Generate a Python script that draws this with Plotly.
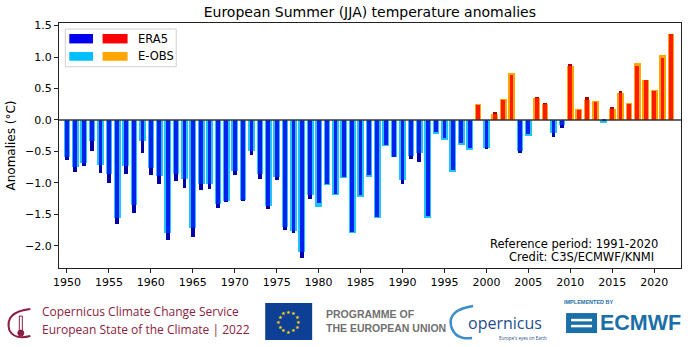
import numpy as np
import plotly.graph_objects as go

years = list(range(1950, 2023))
era5 = [-0.63, -0.82, -0.73, -0.49, -0.84, -1.00, -1.65, -0.85, -1.47, -0.52,
        -0.88, -1.01, -1.90, -0.97, -1.08, -1.86, -1.11, -1.09, -1.40, -1.30,
        -0.88, -1.28, -0.55, -0.94, -1.42, -0.96, -1.75, -1.80, -2.19, -1.25,
        -1.32, -1.02, -1.17, -0.90, -1.78, -1.19, -0.88, -1.54, -0.40, -0.58,
        -1.02, -0.62, -0.66, -1.53, -0.19, -0.28, -0.80, -0.37, -0.45, 0.24,
        -0.46, 0.13, 0.32, 0.72, -0.52, -0.22, 0.37, 0.27, -0.27, -0.12,
        0.89, 0.16, 0.37, 0.29, -0.02, 0.20, 0.46, 0.26, 0.86, 0.63,
        0.46, 0.98, 1.36]
eobs = [-0.58, -0.75, -0.68, -0.34, -0.72, -0.86, -1.55, -0.73, -1.35, -0.34,
        -0.76, -0.89, -1.79, -0.86, -0.94, -1.72, -1.02, -1.02, -1.34, -1.28,
        -0.81, -1.27, -0.50, -0.86, -1.37, -0.90, -1.70, -1.76, -2.09, -1.19,
        -1.38, -1.04, -1.19, -0.92, -1.80, -1.22, -0.90, -1.56, -0.42, -0.59,
        -0.95, -0.57, -0.52, -1.55, -0.22, -0.31, -0.82, -0.39, -0.48, 0.26,
        -0.44, 0.10, 0.34, 0.75, -0.50, -0.25, 0.35, 0.25, -0.21, -0.08,
        0.85, 0.17, 0.32, 0.30, -0.04, 0.17, 0.43, 0.27, 0.91, 0.64,
        0.48, 1.03, 1.37]
xticks = list(range(1950, 2021, 5))
yticks = [-2.0, -1.5, -1.0, -0.5, 0.0, 0.5, 1.0, 1.5]

ERA5_NEG, ERA5_POS = "#0022EE", "#FF1A00"
ERA5_NEG_TIP, ERA5_POS_TIP = "#0000A8", "#B00000"
EOBS_NEG, EOBS_POS = "#22C2FF", "#FFA500"

e = np.array(era5)
o = np.array(eobs)
overlap = np.where(np.sign(e) == np.sign(o), np.sign(e) * np.minimum(np.abs(e), np.abs(o)), 0.0)

fig = go.Figure()
fig.add_bar(x=years, y=eobs, width=0.8,
            marker=dict(color=[EOBS_POS if v > 0 else EOBS_NEG for v in eobs], line=dict(width=0)))
fig.add_bar(x=years, y=era5, width=0.45,
            marker=dict(color=[ERA5_POS_TIP if v > 0 else ERA5_NEG_TIP for v in era5], line=dict(width=0)))
fig.add_bar(x=years, y=overlap.tolist(), width=0.45,
            marker=dict(color=[ERA5_POS if v > 0 else ERA5_NEG for v in era5], line=dict(width=0)))

# plot area in pixels
L, R, T, B = 58.7, 681.0, 23.3, 268.0
W, H = R - L, B - T


def px(x):
    return (x - L) / W


def py(y):
    return (B - y) / H


shapes = []
annotations = []

# zero line
shapes.append(dict(type="line", xref="paper", yref="y", x0=0, x1=1, y0=0, y1=0,
                   line=dict(color="#333333", width=1.3), layer="above"))

# legend
shapes.append(dict(type="rect", xref="paper", yref="paper", x0=px(65), x1=px(176), y0=py(67), y1=py(29.3),
                   line=dict(color="#d0d0d0", width=1), fillcolor="rgba(255,255,255,0.9)", layer="above"))
for (x0, x1, y0, y1, c) in [(69, 92.7, 34.3, 43.7, "#0000EE"), (102.3, 127.3, 34.3, 43.7, "#FF0000"),
                            (69, 92.7, 52.3, 61.0, "#00BFFF"), (102.3, 127.3, 52.3, 61.0, "#FFA500")]:
    shapes.append(dict(type="rect", xref="paper", yref="paper", x0=px(x0), x1=px(x1), y0=py(y1), y1=py(y0),
                       line=dict(width=0), fillcolor=c, layer="above"))
annotations.append(dict(text="ERA5", xref="paper", yref="paper", x=px(136), y=py(39), xanchor="left",
                        yanchor="middle", showarrow=False, font=dict(size=11.5, color="black")))
annotations.append(dict(text="E-OBS", xref="paper", yref="paper", x=px(136), y=py(56.7), xanchor="left",
                        yanchor="middle", showarrow=False, font=dict(size=11.5, color="black")))

# reference text
annotations.append(dict(text="Reference period: 1991-2020", xref="paper", yref="paper", x=px(659.5), y=py(244.3),
                        xanchor="right", yanchor="middle", showarrow=False, font=dict(size=11.5, color="black")))
annotations.append(dict(text="Credit: C3S/ECMWF/KNMI", xref="paper", yref="paper", x=px(655.5), y=py(256.7),
                        xanchor="right", yanchor="middle", showarrow=False, font=dict(size=11.5, color="black")))

# ---- footer logos (decoration) ----
C3S = "#8C1D40"
shapes.append(dict(type="path", xref="paper", yref="paper",
                   path=f"M {px(30)},{py(309)} Q {px(4)},{py(312)} {px(9)},{py(330)} Q {px(14)},{py(340)} {px(30)},{py(336)}",
                   line=dict(color=C3S, width=2)))
shapes.append(dict(type="rect", xref="paper", yref="paper", x0=px(19), x1=px(22), y0=py(332), y1=py(316),
                   line=dict(color=C3S, width=1), fillcolor="white"))
shapes.append(dict(type="circle", xref="paper", yref="paper", x0=px(17.5), x1=px(23.5), y0=py(336), y1=py(330),
                   line=dict(color=C3S, width=1), fillcolor=C3S))
annotations.append(dict(text="Copernicus Climate Change Service", xref="paper", yref="paper", x=px(40), y=py(311),
                        xanchor="left", yanchor="middle", showarrow=False,
                        font=dict(size=12, color=C3S, family="Open Sans")))
annotations.append(dict(text="European State of the Climate | 2022", xref="paper", yref="paper", x=px(40), y=py(329),
                        xanchor="left", yanchor="middle", showarrow=False,
                        font=dict(size=12, color=C3S, family="Open Sans")))

# EU flag
shapes.append(dict(type="rect", xref="paper", yref="paper", x0=px(265), x1=px(312), y0=py(340), y1=py(303),
                   line=dict(width=0), fillcolor="#0D3F95"))
for k in range(12):
    a = 2 * np.pi * k / 12
    annotations.append(dict(text="★", xref="paper", yref="paper", x=px(288.5 + 10 * np.cos(a)),
                            y=py(321.5 + 10 * np.sin(a)), showarrow=False, xanchor="center", yanchor="middle",
                            font=dict(size=5, color="#FFDD00")))
annotations.append(dict(text="<b>PROGRAMME OF</b>", xref="paper", yref="paper", x=px(324),
                        y=py(313.5), xanchor="left", yanchor="middle", showarrow=False,
                        font=dict(size=10.5, color="#707070", family="Liberation Sans")))
annotations.append(dict(text="<b>THE EUROPEAN UNION</b>", xref="paper", yref="paper", x=px(324),
                        y=py(328), xanchor="left", yanchor="middle", showarrow=False,
                        font=dict(size=10.5, color="#707070", family="Liberation Sans")))

# Copernicus
shapes.append(dict(type="path", xref="paper", yref="paper",
                   path=f"M {px(473)},{py(306)} Q {px(447)},{py(310)} {px(451)},{py(326)} Q {px(455)},{py(340)} {px(472)},{py(338)}",
                   line=dict(color="#3E8EC9", width=2.5)))
annotations.append(dict(text="opernicus", xref="paper", yref="paper", x=px(466), y=py(323), xanchor="left",
                        yanchor="middle", showarrow=False,
                        font=dict(size=16, color="#1F4E8C", family="Open Sans")))
annotations.append(dict(text="Europe's eyes on Earth", xref="paper", yref="paper", x=px(497), y=py(338),
                        xanchor="left", yanchor="middle", showarrow=False,
                        font=dict(size=4.5, color="#1F4E8C", family="Open Sans")))

# ECMWF
annotations.append(dict(text="<b>IMPLEMENTED BY</b>", xref="paper", yref="paper", x=px(562), y=py(302),
                        xanchor="left", yanchor="middle", showarrow=False,
                        font=dict(size=5.5, color="#1A6FA8", family="Liberation Sans")))
shapes.append(dict(type="rect", xref="paper", yref="paper", x0=px(566), x1=px(597), y0=py(333), y1=py(313),
                   line=dict(width=0), fillcolor="#1A6FA8"))
shapes.append(dict(type="line", xref="paper", yref="paper", x0=px(571), x1=px(592), y0=py(320), y1=py(320),
                   line=dict(color="white", width=2.5)))
shapes.append(dict(type="line", xref="paper", yref="paper", x0=px(571), x1=px(592), y0=py(326), y1=py(326),
                   line=dict(color="white", width=2.5)))
annotations.append(dict(text="<b>ECMWF</b>", xref="paper", yref="paper", x=px(598), y=py(323), xanchor="left",
                        yanchor="middle", showarrow=False,
                        font=dict(size=21.5, color="#1A6FA8", family="Liberation Sans")))

fig.update_layout(
    width=690, height=347,
    margin=dict(l=L, r=690 - R, t=T, b=347 - B),
    paper_bgcolor="white", plot_bgcolor="white",
    barmode="overlay", bargap=0, showlegend=False,
    font=dict(family="DejaVu Sans", color="black", size=11),
    title=dict(text="European Summer (JJA) temperature anomalies", x=((L + R) / 2) / 690,
               xanchor="center", y=1 - 12 / 347, yanchor="middle", font=dict(size=14, color="black")),
    shapes=shapes, annotations=annotations,
)
fig.update_xaxes(range=[1949.05, 2023.2], tickvals=xticks, ticks="outside", ticklen=4, tickwidth=1,
                 tickcolor="#222", showline=True, linecolor="#222", linewidth=1, mirror=True,
                 showgrid=False, zeroline=False, tickfont=dict(size=11))
fig.update_yaxes(range=[-2.35, 1.54], tickvals=yticks, tickformat=".1f", ticks="outside", ticklen=4,
                 tickwidth=1, tickcolor="#222", showline=True, linecolor="#222", linewidth=1, mirror=True,
                 showgrid=False, zeroline=False, tickfont=dict(size=11),
                 title=dict(text="Anomalies (°C)", font=dict(size=12), standoff=6))

fig.write_html("out.html")
